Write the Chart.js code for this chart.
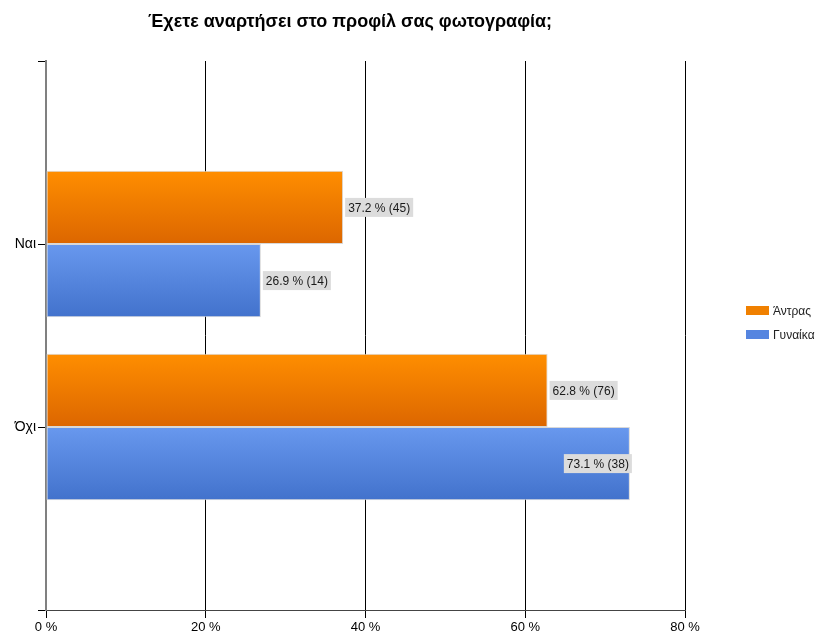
<!DOCTYPE html>
<html lang="el">
<head>
  <meta charset="UTF-8">
  <title>Έχετε αναρτήσει στο προφίλ σας φωτογραφία;</title>
  <script src="https://cdn.jsdelivr.net/npm/chart.js@4.4.0/dist/chart.umd.min.js"></script>
  <style>
    html, body { margin: 0; padding: 0; background: #fff; }
  </style>
</head>
<body>
<canvas id="photoChart" width="822" height="635"></canvas>

<script>
  const chartTitle = 'Έχετε αναρτήσει στο προφίλ σας φωτογραφία;';
  const categories = ['Ναι', 'Όχι'];
  const seriesNames = ['Άντρας', 'Γυναίκα'];
  const menPct = [37.2, 62.8];
  const womenPct = [26.9, 73.1];
  const menCount = [45, 76];
  const womenCount = [14, 38];
  const xTicks = [0, 20, 40, 60, 80];

  const FONT = '"Liberation Sans", Arial, sans-serif';

  // empty slots above and below so the two groups sit at 1/3 and 2/3 of the height
  const pad = arr => [null, ...arr, null];
  const labels = ['', ...categories, ''];

  // vertical gradient per bar, worked out from the category scale
  function barGradient(topColor, bottomColor) {
    return function(ctx) {
      const chart = ctx.chart;
      const y = chart.scales.y;
      if (ctx.type !== 'data' || !y) return topColor;
      const c = y.getPixelForValue(ctx.dataIndex);
      const half = Math.abs(y.getPixelForValue(1) - y.getPixelForValue(0)) * 0.8 / 2;
      const y0 = ctx.datasetIndex === 0 ? c - half : c;
      if (!isFinite(y0) || !isFinite(half) || half <= 0) return topColor;
      const g = chart.ctx.createLinearGradient(0, y0, 0, y0 + half);
      g.addColorStop(0, topColor);
      g.addColorStop(1, bottomColor);
      return g;
    };
  }

  const valueLabels = {
    id: 'valueLabels',
    afterDatasetsDraw(chart) {
      const c = chart.ctx;
      c.save();
      c.font = '12px ' + FONT;
      c.textBaseline = 'middle';
      chart.data.datasets.forEach((ds, di) => {
        chart.getDatasetMeta(di).data.forEach((bar, i) => {
          const v = ds.data[i];
          if (v == null) return;
          const txt = v.toFixed(1) + ' % (' + ds.counts[i] + ')';
          const w = c.measureText(txt).width + 6;
          const h = 19;
          let x = bar.x + 2;
          if (x + w > chart.chartArea.right) x = bar.x + 2 - w;
          c.fillStyle = '#dcdcdc';
          c.fillRect(x, bar.y - h / 2, w, h);
          c.fillStyle = '#1a1a1a';
          c.fillText(txt, x + 3, bar.y + 1);
        });
      });
      c.restore();
    }
  };

  // title and legend placed like the original
  const decorations = {
    id: 'decorations',
    afterDraw(chart) {
      const c = chart.ctx;
      c.save();
      c.fillStyle = '#000';
      c.font = 'bold 18px ' + FONT;
      c.textAlign = 'center';
      c.textBaseline = 'middle';
      c.fillText(chartTitle, 350, 22);

      c.font = '12px ' + FONT;
      c.textAlign = 'left';
      chart.data.datasets.forEach((ds, i) => {
        const yc = 311 + i * 24;
        c.fillStyle = ds.legendColor;
        c.fillRect(746, yc - 5, 23, 9);
        c.fillStyle = '#222';
        c.fillText(ds.label, 773, yc + 1);
      });
      c.restore();
    }
  };

  const ctx = document.getElementById('photoChart').getContext('2d');
  new Chart(ctx, {
    type: 'bar',
    data: {
      labels: labels,
      datasets: [{
        label: seriesNames[0],
        data: pad(menPct),
        counts: pad(menCount),
        backgroundColor: barGradient('#ff8e00', '#dc6600'),
        legendColor: '#f08000',
        borderColor: '#d8d8d8',
        borderWidth: 1,
        borderSkipped: false
      }, {
        label: seriesNames[1],
        data: pad(womenPct),
        counts: pad(womenCount),
        backgroundColor: barGradient('#6898ee', '#4272cc'),
        legendColor: '#5585e0',
        borderColor: '#d8d8d8',
        borderWidth: 1,
        borderSkipped: false
      }]
    },
    options: {
      indexAxis: 'y',
      responsive: false,
      animation: false,
      devicePixelRatio: 1,
      categoryPercentage: 0.8,
      barPercentage: 1.0,
      layout: { padding: { top: 61, right: 137, left: 0, bottom: 0 } },
      plugins: {
        legend: { display: false },
        title: { display: false },
        tooltip: { enabled: false }
      },
      scales: {
        x: {
          min: 0,
          max: 80,
          afterBuildTicks: scale => { scale.ticks = xTicks.map(v => ({ value: v })); },
          afterFit: scale => { scale.height = 25; },
          grid: { color: '#000', lineWidth: 1, tickLength: 8 },
          border: { color: '#444', width: 1 },
          ticks: {
            color: '#000',
            padding: 2,
            font: { family: FONT, size: 13 },
            callback: v => v + ' %'
          }
        },
        y: {
          offset: false,
          afterFit: scale => { scale.width = 46; },
          grid: { offset: false, drawOnChartArea: false, color: '#000', tickLength: 8 },
          border: { color: '#808080', width: 2 },
          ticks: {
            color: '#000',
            padding: 2,
            font: { family: FONT, size: 14 }
          }
        }
      }
    },
    plugins: [valueLabels, decorations]
  });
</script>
</body>
</html>
